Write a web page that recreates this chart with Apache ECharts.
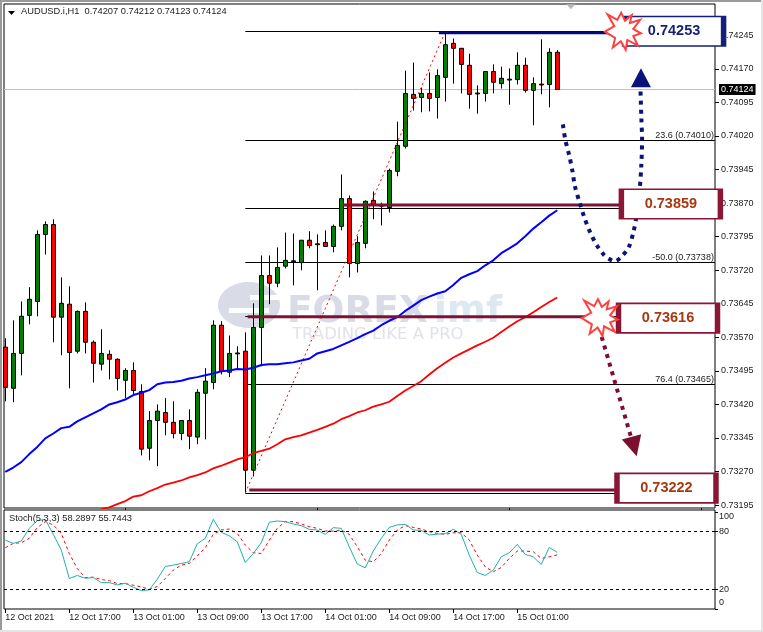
<!DOCTYPE html>
<html>
<head>
<meta charset="utf-8">
<title>AUDUSD.i,H1</title>
<style>
html, body { margin: 0; padding: 0; background: #fff; }
#chart { width: 763px; height: 632px; }
</style>
</head>
<body>
<div id="chart"></div>
<script src="https://cdn.jsdelivr.net/npm/echarts@6/dist/echarts.min.js"></script>
<script>
// hourly candles, red = down, green = up
var opens = [0.73548,0.73456,0.73534,0.73619,0.73650,0.73800,0.73822,0.73615,0.73644,0.73539,
  0.73628,0.73559,0.73510,0.73532,0.73521,0.73474,0.73496,0.73449,0.73322,0.73384,
  0.73402,0.73380,0.73355,0.73384,0.73347,0.73445,0.73469,0.73597,0.73492,0.73535,
  0.73539,0.73273,0.73592,0.73708,0.73691,0.73729,0.73741,0.73737,0.73787,0.73779,
  0.73782,0.73773,0.73818,0.73880,0.73735,0.73780,0.73876,0.73867,0.73860,0.73941,
  0.73997,0.74113,0.74106,0.74115,0.74106,0.74151,0.74227,0.74216,0.74178,0.74116,
  0.74115,0.74164,0.74137,0.74147,0.74146,0.74178,0.74122,0.74136,0.74135,0.74207]
var closes = [0.73458,0.73534,0.73617,0.73655,0.73800,0.73822,0.73615,0.73646,0.73536,0.73628,
  0.73559,0.73512,0.73534,0.73521,0.73478,0.73496,0.73451,0.73320,0.73384,0.73405,
  0.73380,0.73355,0.73384,0.73349,0.73447,0.73472,0.73597,0.73494,0.73534,0.73533,
  0.73273,0.73592,0.73708,0.73691,0.73726,0.73742,0.73739,0.73787,0.73775,0.73777,
  0.73773,0.73818,0.73880,0.73735,0.73782,0.73874,0.73867,0.73863,0.73943,0.73999,
  0.74115,0.74104,0.74115,0.74104,0.74155,0.74224,0.74216,0.74180,0.74113,0.74114,
  0.74164,0.74140,0.74149,0.74145,0.74178,0.74122,0.74137,0.74134,0.74207,0.74124]
var lows = [0.73427,0.73425,0.73485,0.73599,0.73617,0.73755,0.73559,0.73530,0.73456,0.73534,
  0.73534,0.73469,0.73496,0.73476,0.73451,0.73434,0.73443,0.73306,0.73295,0.73282,
  0.73351,0.73344,0.73340,0.73320,0.73331,0.73342,0.73454,0.73487,0.73481,0.73498,
  0.73222,0.73259,0.73505,0.73644,0.73682,0.73724,0.73686,0.73720,0.73769,0.73675,
  0.73773,0.73760,0.73809,0.73704,0.73715,0.73769,0.73834,0.73820,0.73849,0.73930,
  0.73992,0.74077,0.74073,0.74075,0.74059,0.74097,0.74137,0.74115,0.74081,0.74070,
  0.74097,0.74115,0.74126,0.74090,0.74135,0.74117,0.74044,0.74113,0.74084,0.74123]
var highs = [0.73568,0.73608,0.73650,0.73682,0.73809,0.73829,0.73834,0.73704,0.73684,0.73630,
  0.73648,0.73563,0.73588,0.73541,0.73523,0.73501,0.73514,0.73465,0.73405,0.73420,
  0.73434,0.73427,0.73384,0.73409,0.73454,0.73501,0.73608,0.73606,0.73574,0.73550,
  0.73581,0.73646,0.73753,0.73753,0.73771,0.73804,0.73802,0.73787,0.73807,0.73800,
  0.73809,0.73822,0.73934,0.73887,0.73796,0.73876,0.73896,0.73871,0.73947,0.74052,
  0.74166,0.74184,0.74128,0.74162,0.74169,0.74253,0.74238,0.74216,0.74204,0.74133,
  0.74164,0.74180,0.74175,0.74171,0.74207,0.74195,0.74151,0.74236,0.74216,0.74212]

// moving averages
var blueMa = [0.73269,0.73279,0.73291,0.73309,0.73325,0.73344,0.73355,0.73367,0.73370,0.73382,
  0.73391,0.73400,0.73409,0.73420,0.73425,0.73431,0.73441,0.73446,0.73452,0.73465,
  0.73469,0.73470,0.73473,0.73478,0.73481,0.73485,0.73489,0.73494,0.73496,0.73499,
  0.73498,0.73502,0.73508,0.73510,0.73510,0.73512,0.73514,0.73518,0.73522,0.73534,
  0.73539,0.73544,0.73552,0.73560,0.73568,0.73577,0.73585,0.73597,0.73607,0.73615,
  0.73629,0.73641,0.73653,0.73661,0.73668,0.73673,0.73687,0.73703,0.73711,0.73718,
  0.73731,0.73742,0.73758,0.73769,0.73780,0.73796,0.73813,0.73827,0.73842,0.73854]
var redMa = [null,null,null,null,null,null,null,null,null,null,null,null,
  0.73186,0.73190,0.73197,0.73204,0.73214,0.73217,0.73226,0.73233,
  0.73241,0.73245,0.73250,0.73257,0.73262,0.73268,0.73277,0.73283,0.73290,0.73297,
  0.73302,0.73311,0.73316,0.73321,0.73331,0.73342,0.73347,0.73351,0.73357,0.73363,
  0.73370,0.73377,0.73387,0.73394,0.73402,0.73407,0.73415,0.73420,0.73426,0.73439,
  0.73451,0.73461,0.73472,0.73487,0.73501,0.73513,0.73525,0.73534,0.73543,0.73552,
  0.73560,0.73569,0.73582,0.73594,0.73606,0.73615,0.73626,0.73638,0.73649,0.73659]

// stochastic pane
var stochMain = [71.0,67.6,70.0,83.1,91.0,92.4,76.9,60.7,31.4,34.5,
  31.7,32.4,27.2,27.2,24.8,26.6,22.4,19.0,19.7,30.7,
  43.8,45.2,46.9,48.6,67.2,72.8,92.4,79.0,75.5,69.3,
  47.9,57.2,68.3,89.3,90.7,90.0,87.6,85.9,82.1,81.4,
  76.9,83.8,83.1,64.1,46.2,42.4,59.7,72.8,84.1,86.6,
  87.2,81.4,81.0,76.2,77.2,77.6,82.1,76.9,55.5,37.6,
  34.5,40.0,53.8,57.9,66.6,56.2,53.8,45.9,63.4,58.29]
var stochSignal = [63.1,67.6,68.3,72.8,83.8,90.0,86.6,77.9,57.2,41.7,
  32.4,32.8,30.3,29.3,26.2,26.2,24.5,22.8,20.3,23.1,
  31.4,40.0,45.2,46.9,54.8,63.1,76.9,81.4,82.4,77.9,
  65.9,57.9,57.2,71.0,83.1,90.0,90.0,87.6,84.8,83.1,
  80.3,80.3,81.4,76.9,64.1,50.3,48.6,57.2,71.0,81.4,
  85.9,84.1,82.4,79.7,77.9,76.9,78.6,78.6,71.0,55.5,
  43.4,38.3,42.8,52.1,59.7,59.7,59.0,52.1,53.8,55.74]

// axis ticks
var priceTicks = [0.74245,0.74170,0.74095,0.74020,0.73945,0.73870,0.73795,0.73720,
  0.73645,0.73570,0.73495,0.73420,0.73345,0.73270,0.73195]
var timeTickBars = [0,8,16,24,32,40,48,56,64]
var timeTickLabels = ['12 Oct 2021','12 Oct 17:00','13 Oct 01:00','13 Oct 09:00','13 Oct 17:00',
  '14 Oct 01:00','14 Oct 09:00','14 Oct 17:00','15 Oct 01:00']
var mainPaneTicks = [15,39,63,87]

// fibonacci levels
var fibPrices = [0.74253,0.74010,0.73859,0.73738,0.73616,0.73465,0.73222]
var fibTexts = ['','23.6 (0.74010)','','-50.0 (0.73738)','','76.4 (0.73465)','']
var fibStartBar = 30
var trendBars = [30,55]
var trendPrices = [0.73222,0.74253]

// thick target lines
var levelStart = [54.2,42.2,30.3,30.5]
var levelEnd = [76.8,76.8,74.3,76.3]
var levelPrice = [0.74251,0.73866,0.73616,0.73229]
var levelColor = ['#000a7d','#7d1233','#7d1233','#7d1233']

// target boxes
var boxBars = [83.6,83.2,82.84,82.65]
var boxPrices = [0.74254,0.73868,0.73613,0.73233]
var boxTexts = ['0.74253','0.73859','0.73616','0.73222']
var boxBorder = ['#14207c','#8b1535','#8b1535','#8b1535']
var boxTextColor = ['#161f78','#a8380f','#a8380f','#a8380f']

// hand drawn path, up scenario
var upPathBars = [69.7,70.0,70.5,70.9,71.2,71.8,72.4,73.1,74.0,74.8,75.4,76.2,77.0,77.9,78.5,78.9,79.3,79.5,79.6,79.5,79.4]
var upPathPrices = [0.74046,0.74012,0.73976,0.73941,0.73908,0.73871,0.73837,0.73805,0.73774,0.73755,0.73746,
  0.73740,0.73750,0.73770,0.73804,0.73841,0.73901,0.73953,0.74012,0.74064,0.74124]
// down scenario
var downPathBars = [74.55,78.3]
var downPathPrices = [0.73571,0.73342]

var burstPath = 'path://M3,52 L28,38 L10,8 L36,22 L46,4 L56,24 L74,10 L69,30 L96,22 L78,45 L98,56 L78,63 L90,87 L62,73 L58,98 L45,76 L24,92 L30,68 Z'

var labelFont = '"Liberation Sans", Arial, sans-serif'
var chart = echarts.init(document.getElementById('chart'))

function candleRow(open, i) {
  return [i, open, closes[i], lows[i], highs[i]]
}
function pairUp(xs, ys) {
  return xs.map(function (x, i) { return [x, ys[i]] })
}
function lineSeries(data, color, width, type, xIdx) {
  return {
    type: 'line',
    xAxisIndex: xIdx || 0,
    yAxisIndex: xIdx || 0,
    data: data,
    showSymbol: false,
    connectNulls: false,
    lineStyle: { color: color, width: width, type: type || 'solid' },
    silent: true,
  }
}

var fibLines = fibPrices.map(function (p, i) {
  return [
    { coord: [fibStartBar, p], symbol: 'none' },
    {
      coord: [88.7, p],
      symbol: 'none',
      label: {
        show: !!fibTexts[i],
        formatter: fibTexts[i],
        position: 'insideEndTop',
        distance: [1, 0],
        color: '#222',
        fontSize: 9,
        fontFamily: labelFont,
      },
    },
  ]
})

var series = []
// current price line
series.push({
  type: 'line',
  data: [],
  markLine: {
    silent: true,
    symbol: 'none',
    animation: false,
    precision: 5,
    z: 1,
    lineStyle: { color: '#c0c0c0', width: 1, type: 'solid' },
    label: {
      show: true,
      position: 'end',
      distance: 4,
      formatter: '0.74124',
      color: '#fff',
      backgroundColor: '#000',
      padding: [1, 2, 1, 2],
      fontSize: 9,
      fontFamily: labelFont,
    },
    data: [{ yAxis: closes[closes.length - 1] }],
  },
})
// fibonacci lines under everything
series.push({
  type: 'line',
  data: [],
  markLine: {
    silent: true,
    symbol: 'none',
    animation: false,
    z: 1,
    lineStyle: { color: '#000', width: 1, type: 'solid' },
    data: fibLines,
  },
})
series.push({
  type: 'candlestick',
  data: opens.map(candleRow),
  encode: { x: 0, y: [1, 2, 3, 4] },
  barWidth: 5,
  itemStyle: {
    color: '#008000',
    color0: '#ff0000',
    borderColor: '#000',
    borderColor0: '#000',
    borderWidth: 1,
  },
})
series.push(lineSeries(pairUp(trendBars, trendPrices), '#ff0000', 1, [2, 3]))
series.push(lineSeries(blueMa.map(function (v, i) { return [i, v] }), '#0000ff', 2))
series.push(lineSeries(redMa.map(function (v, i) { return [i, v] }), '#ff0000', 1.8))
levelPrice.forEach(function (p, i) {
  series.push(lineSeries([[levelStart[i], p], [levelEnd[i], p]], levelColor[i], 3))
})
var upCurve = lineSeries(pairUp(upPathBars, upPathPrices), '#0a1478', 4, [4, 5])
upCurve.smooth = 0.3
series.push(upCurve)
series.push(lineSeries(pairUp(downPathBars, downPathPrices), '#7d0f2e', 4, [4, 5]))

// arrow heads and the small grey marker on top of the pane
series.push({
  type: 'scatter',
  clip: false,
  silent: true,
  z: 6,
  data: [
    { value: [79.46, 0.74150], symbol: 'triangle', symbolSize: [20, 19], itemStyle: { color: '#0a1478', opacity: 1 } },
    { value: [78.6, 0.73326], symbol: 'triangle', symbolSize: [20, 20], symbolRotate: 195, itemStyle: { color: '#7d0f2e', opacity: 1 } },
    { value: [70.7, 0.74309], symbol: 'triangle', symbolSize: [9, 5], symbolRotate: 180, itemStyle: { color: '#b8b8b8', opacity: 1 } },
  ],
})
// price boxes
series.push({
  type: 'scatter',
  clip: false,
  silent: true,
  z: 7,
  data: boxBars.map(function (b, i) {
    return {
      value: [b, boxPrices[i]],
      symbol: 'rect',
      symbolSize: [99, 29.5],
      itemStyle: { color: '#fff', borderColor: boxBorder[i], borderWidth: 3, opacity: 1 },
      label: {
        show: true,
        position: 'inside',
        formatter: boxTexts[i],
        color: boxTextColor[i],
        fontSize: 14.5,
        fontWeight: 'bold',
        fontFamily: labelFont,
      },
    }
  }),
})
// star bursts sit above the boxes
series.push({
  type: 'scatter',
  clip: false,
  silent: true,
  z: 8,
  symbol: burstPath,
  symbolSize: [36, 37],
  itemStyle: { color: '#fff', borderColor: '#ff4040', borderWidth: 2, opacity: 1 },
  data: [[77.2, 0.74254], [74.3, 0.73614]],
})

// stochastic
series.push(lineSeries(stochSignal.map(function (v, i) { return [i, v] }), '#ff0000', 1, [3, 3], 1))
var mainStoch = lineSeries(stochMain.map(function (v, i) { return [i, v] }), '#20b2aa', 1, 'solid', 1)
mainStoch.markLine = {
  silent: true,
  symbol: 'none',
  animation: false,
  label: { show: false },
  lineStyle: { color: '#000', width: 1, type: [3, 3] },
  data: [{ yAxis: 80 }, { yAxis: 20 }],
}
series.push(mainStoch)

var option = {
  animation: false,
  backgroundColor: '#fff',
  textStyle: { fontFamily: labelFont },
  title: [
    {
      text: 'AUDUSD.i,H1  0.74207 0.74212 0.74123 0.74124',
      left: 21,
      top: 7,
      padding: 0,
      textStyle: { fontSize: 9.3, fontWeight: 'normal', color: '#222', fontFamily: labelFont },
    },
    {
      text: 'Stoch(5,3,3) 58.2897 55.7443',
      left: 9,
      top: 514,
      padding: 0,
      textStyle: { fontSize: 9.3, fontWeight: 'normal', color: '#222', fontFamily: labelFont },
    },
  ],
  grid: [
    { left: 4, width: 711, top: 4, height: 504, show: true, borderColor: '#000', borderWidth: 1, backgroundColor: 'transparent' },
    { left: 4, width: 711, top: 510, height: 99, show: true, borderColor: '#000', borderWidth: 1, backgroundColor: 'transparent' },
  ],
  xAxis: [
    {
      type: 'value',
      gridIndex: 0,
      min: -0.16,
      max: 88.715,
      splitLine: { show: false },
      axisLine: { show: false, onZero: false },
      axisLabel: { show: false },
      axisTick: { show: true, length: 2, customValues: mainPaneTicks, lineStyle: { color: '#000' } },
    },
    {
      type: 'value',
      gridIndex: 1,
      min: -0.16,
      max: 88.715,
      splitLine: { show: false },
      axisLine: { show: false, onZero: false },
      axisTick: { show: true, length: 4, customValues: timeTickBars, lineStyle: { color: '#000' } },
      axisLabel: {
        customValues: timeTickBars,
        align: 'left',
        margin: 4,
        fontSize: 9,
        color: '#222',
        fontFamily: labelFont,
        formatter: function (v) { return timeTickLabels[timeTickBars.indexOf(v)] || '' },
      },
    },
  ],
  yAxis: [
    {
      type: 'value',
      gridIndex: 0,
      position: 'right',
      min: 0.731885,
      max: 0.74315,
      splitLine: { show: false },
      axisLine: { show: false, onZero: false },
      axisTick: { show: true, length: 4, customValues: priceTicks, lineStyle: { color: '#000' } },
      axisLabel: {
        customValues: priceTicks,
        margin: 6,
        fontSize: 9,
        color: '#222',
        fontFamily: labelFont,
        formatter: function (v) { return v.toFixed(5) },
      },
    },
    {
      type: 'value',
      gridIndex: 1,
      position: 'right',
      min: 0,
      max: 102,
      splitLine: { show: false },
      axisLine: { show: false, onZero: false },
      axisTick: { show: true, length: 3, customValues: [100, 80, 20, 0], lineStyle: { color: '#000' } },
      axisLabel: {
        // 100 and 0 are pushed inward like the terminal does
        customValues: [95.5, 80, 20, 7],
        margin: 4,
        fontSize: 9,
        color: '#222',
        fontFamily: labelFont,
        formatter: function (v) { return v > 90 ? '100' : v < 10 ? '0' : String(v) },
      },
    },
  ],
  series: series,
  graphic: [
    // window edges
    { type: 'rect', shape: { x: 0, y: 0, width: 763, height: 2 }, style: { fill: '#9a9a9a' }, silent: true },
    { type: 'rect', shape: { x: 0, y: 0, width: 2, height: 632 }, style: { fill: '#9a9a9a' }, silent: true },
    { type: 'rect', shape: { x: 0, y: 630, width: 763, height: 2 }, style: { fill: '#e4e4e4' }, silent: true },
    { type: 'rect', shape: { x: 761, y: 0, width: 2, height: 632 }, style: { fill: '#e4e4e4' }, silent: true },
    // pull down arrow next to the symbol name
    { type: 'polygon', shape: { points: [[8, 11], [15, 11], [11.5, 15]] }, style: { fill: '#000' }, silent: true },
    // watermark
    { type: 'ellipse', shape: { cx: 249, cy: 305, rx: 31, ry: 23 }, style: { fill: '#d9dbe6' }, silent: true },
    { type: 'rect', shape: { x: 229, y: 308, width: 40, height: 5 }, style: { fill: '#fff' }, silent: true },
    { type: 'rect', shape: { x: 250, y: 295, width: 34, height: 5 }, style: { fill: '#fff' }, silent: true },
    { type: 'text', left: 287, top: 293, silent: true, style: { text: 'FOREX', fill: '#d9dbe6', font: 'bold 37.5px "DejaVu Sans"' } },
    { type: 'text', left: 434, top: 293, silent: true, style: { text: 'imf', fill: '#dde8f0', font: 'bold 37.5px "DejaVu Sans"' } },
    { type: 'text', left: 292, top: 326, silent: true, style: { text: 'TRADING LIKE A PRO', fill: '#e2e3ea', font: '16.5px "DejaVu Sans"' } },
  ],
}

chart.setOption(option)
</script>
</body>
</html>
